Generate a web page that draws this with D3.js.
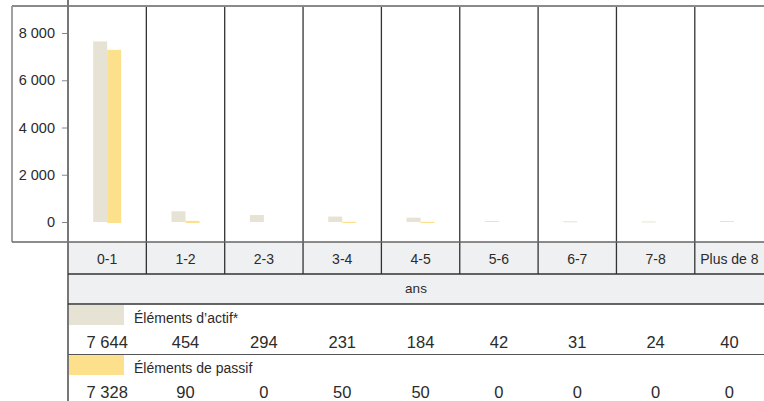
<!DOCTYPE html>
<html>
<head>
<meta charset="utf-8">
<script src="https://cdn.jsdelivr.net/npm/d3@7"></script>
<style>
  html, body { margin: 0; padding: 0; background: #fff; }
  svg { display: block; }
  text { font-family: "Liberation Sans", Arial, sans-serif; fill: #2b2b2b; }
</style>
</head>
<body>
<svg id="chart" width="764" height="401"></svg>
<script>
// Maturity buckets (years) and amounts per bucket
const categories = ["0-1", "1-2", "2-3", "3-4", "4-5", "5-6", "6-7", "7-8", "Plus de 8"];
const actifValues = [7644, 454, 294, 231, 184, 42, 31, 24, 40];
const passifValues = [7328, 90, 0, 50, 50, 0, 0, 0, 0];
const seriesNames = ["Éléments d’actif*", "Éléments de passif"];
const yTicks = [0, 2000, 4000, 6000, 8000];
const unitLabel = "ans";

const W = 764, H = 401;
const frameLeft = 12, frameTop = 6;
const plotLeft = 68, plotBottom = 242;
const colW = 78.35;
const colActif = "#e6e3d4", colPassif = "#fde08c";
const tableBg = "#eff0f2";

const svg = d3.select("#chart");
const fmt = v => d3.format(",")(v).replace(/,/g, " ");

const x = d3.scaleBand()
  .domain(categories)
  .range([plotLeft, plotLeft + colW * categories.length])
  .padding(0);
const y = d3.scaleLinear().domain([0, 8000]).range([222, 33]);
const barW = 14;

// Table backgrounds: category row and unit row
svg.append("rect").attr("x", plotLeft).attr("y", plotBottom).attr("width", W - plotLeft).attr("height", 62).attr("fill", tableBg);

// Bars
const g = svg.append("g");
categories.forEach((c, i) => {
  const cx = x(c) + x.bandwidth() / 2;
  const a = actifValues[i], p = passifValues[i];
  if (a > 0) {
    g.append("rect").attr("x", cx - barW).attr("width", barW)
      .attr("y", y(a)).attr("height", Math.max(1, y(0) - y(a))).attr("fill", colActif);
  }
  if (p > 0) {
    g.append("rect").attr("x", cx).attr("width", barW)
      .attr("y", y(p) + 1).attr("height", Math.max(1, y(0) - y(p))).attr("fill", colPassif);
  }
});

// Column separators through the plot and category row
categories.slice(1).forEach(c => {
  svg.append("line").attr("x1", x(c)).attr("x2", x(c)).attr("y1", frameTop).attr("y2", 274)
    .attr("stroke", "#333").attr("stroke-width", 1.3);
});

// Plot frame
svg.append("line").attr("x1", frameLeft).attr("x2", W).attr("y1", frameTop).attr("y2", frameTop).attr("stroke", "#8a8a8a").attr("stroke-width", 2);
svg.append("line").attr("x1", frameLeft).attr("x2", frameLeft).attr("y1", frameTop).attr("y2", plotBottom).attr("stroke", "#8a8a8a").attr("stroke-width", 1.6);
svg.append("line").attr("x1", frameLeft).attr("x2", W).attr("y1", plotBottom).attr("y2", plotBottom).attr("stroke", "#666").attr("stroke-width", 1.6);

// Y axis
const yAxis = d3.axisLeft(y).tickValues(yTicks).tickSize(6).tickPadding(7).tickFormat(fmt);
const ya = svg.append("g").attr("transform", `translate(${plotLeft},0)`).call(yAxis);
ya.select(".domain").remove();
ya.selectAll(".tick line").attr("stroke", "#888").attr("stroke-width", 1);
ya.selectAll(".tick text").attr("font-size", 14.5).attr("fill", "#2b2b2b")
  .style("font-family", '"Liberation Sans", Arial, sans-serif');
svg.append("line").attr("x1", plotLeft).attr("x2", plotLeft).attr("y1", 0).attr("y2", H)
  .attr("stroke", "#777").attr("stroke-width", 2);

// Category row labels
const labelCx = c => {
  const x0 = x(c), x1 = Math.min(W, x0 + x.bandwidth());
  return (x0 + x1) / 2;
};
svg.append("g").selectAll("text").data(categories).join("text")
  .attr("x", labelCx).attr("y", 264).attr("text-anchor", "middle")
  .attr("font-size", 14).text(d => d);

// Row dividers
svg.append("line").attr("x1", plotLeft).attr("x2", W).attr("y1", 274).attr("y2", 274).attr("stroke", "#333").attr("stroke-width", 1.3);
svg.append("line").attr("x1", plotLeft).attr("x2", W).attr("y1", 304).attr("y2", 304).attr("stroke", "#333").attr("stroke-width", 1.3);
svg.append("line").attr("x1", plotLeft).attr("x2", W).attr("y1", 354.5).attr("y2", 354.5).attr("stroke", "#555").attr("stroke-width", 1);

// Unit label
svg.append("text").attr("x", (plotLeft + W) / 2).attr("y", 293).attr("text-anchor", "middle")
  .attr("font-size", 13.5).text(unitLabel);

// Legend rows with values
const rows = [
  { name: seriesNames[0], color: colActif, values: actifValues, top: 305 },
  { name: seriesNames[1], color: colPassif, values: passifValues, top: 355 }
];
rows.forEach(r => {
  svg.append("rect").attr("x", plotLeft + 1).attr("y", r.top).attr("width", 55).attr("height", 20).attr("fill", r.color);
  svg.append("text").attr("x", 134).attr("y", r.top + 18).attr("font-size", 14).text(r.name);
  svg.append("g").selectAll("text").data(r.values).join("text")
    .attr("x", (d, i) => labelCx(categories[i])).attr("y", r.top + 43)
    .attr("text-anchor", "middle").attr("font-size", 16.5).text(d => fmt(d));
});
</script>
</body>
</html>
